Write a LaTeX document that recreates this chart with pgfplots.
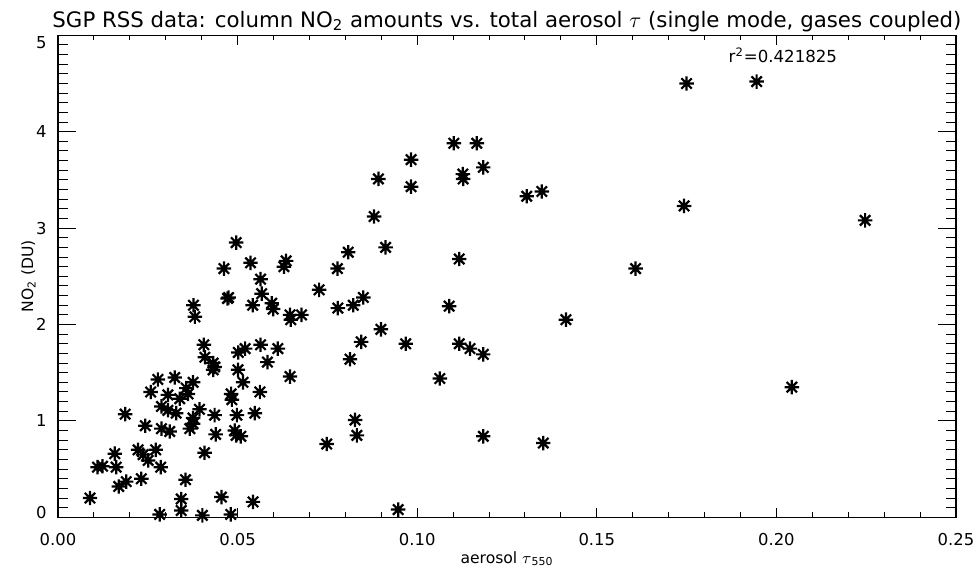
\documentclass[border=0pt]{standalone}
\usepackage{fontspec}
\setmainfont{DejaVu Sans}
\usepackage{pgfplots}
\pgfplotsset{compat=1.18}

% IDL psym=2 style asterisk: plus and cross
\pgfdeclareplotmark{idlstar}{%
  \pgfpathmoveto{\pgfqpoint{-\pgfplotmarksize}{0pt}}%
  \pgfpathlineto{\pgfqpoint{\pgfplotmarksize}{0pt}}%
  \pgfpathmoveto{\pgfqpoint{0pt}{-\pgfplotmarksize}}%
  \pgfpathlineto{\pgfqpoint{0pt}{\pgfplotmarksize}}%
  \pgfpathmoveto{\pgfqpoint{-0.72\pgfplotmarksize}{-0.72\pgfplotmarksize}}%
  \pgfpathlineto{\pgfqpoint{0.72\pgfplotmarksize}{0.72\pgfplotmarksize}}%
  \pgfpathmoveto{\pgfqpoint{-0.72\pgfplotmarksize}{0.72\pgfplotmarksize}}%
  \pgfpathlineto{\pgfqpoint{0.72\pgfplotmarksize}{-0.72\pgfplotmarksize}}%
  \pgfusepathqstroke}

\pgfplotstableread{
x       y
0.0089  0.20
0.0110  0.52
0.0124  0.53
0.0158  0.66
0.0162  0.52
0.0169  0.32
0.0190  0.37
0.0187  1.07
0.0223  0.70
0.0232  0.40
0.0237  0.65
0.0243  0.95
0.0251  0.59
0.0258  1.30
0.0272  0.70
0.0278  1.43
0.0283  0.03
0.0286  0.52
0.0288  1.15
0.0288  0.92
0.0306  1.27
0.0306  1.11
0.0311  0.89
0.0325  1.45
0.0329  1.08
0.0339  1.23
0.0343  0.19
0.0343  0.07
0.0355  0.39
0.0357  1.34
0.0362  1.28
0.0367  0.92
0.0376  1.40
0.0376  1.03
0.0376  0.97
0.0377  2.20
0.0381  2.08
0.0394  1.12
0.0402  0.02
0.0406  1.79
0.0408  0.67
0.0409  1.66
0.0432  1.60
0.0432  1.53
0.0436  1.56
0.0436  1.06
0.0439  0.86
0.0455  0.21
0.0462  2.58
0.0472  2.27
0.0475  2.28
0.0481  0.03
0.0482  1.28
0.0484  1.22
0.0492  0.90
0.0496  2.85
0.0496  0.85
0.0498  1.06
0.0501  1.53
0.0502  1.71
0.0509  0.84
0.0515  1.40
0.0521  1.75
0.0536  2.64
0.0542  2.20
0.0543  0.16
0.0548  1.08
0.0562  1.30
0.0564  2.47
0.0564  1.79
0.0567  2.32
0.0583  1.61
0.0595  2.22
0.0599  2.16
0.0612  1.75
0.0629  2.60
0.0635  2.66
0.0646  2.10
0.0646  1.46
0.0648  2.05
0.0678  2.10
0.0727  2.36
0.0748  0.76
0.0778  2.58
0.0779  2.17
0.0808  2.75
0.0813  1.64
0.0822  2.20
0.0827  1.01
0.0832  0.85
0.0844  1.82
0.0850  2.28
0.0880  3.12
0.0892  3.51
0.0899  1.95
0.0912  2.80
0.0947  0.08
0.0968  1.80
0.0983  3.71
0.0983  3.43
0.1063  1.44
0.1089  2.19
0.1102  3.88
0.1117  2.68
0.1117  1.80
0.1127  3.56
0.1128  3.51
0.1147  1.75
0.1166  3.88
0.1184  3.63
0.1184  1.69
0.1184  0.84
0.1305  3.33
0.1347  3.38
0.1351  0.77
0.1414  2.05
0.1608  2.58
0.1743  3.23
0.1750  4.50
0.1945  4.52
0.2043  1.35
0.2247  3.08
}\notwo

\pgfplotsset{
  idlbox/.style={
    width=449pt, height=241pt, scale only axis,
    xmin=0, xmax=0.25, ymin=0, ymax=5,
    tick align=inside,
    axis line style={line width=0.6pt},
    every tick/.style={black, line width=0.5pt},
  }
}

\begin{document}
\begin{tikzpicture}
% x ticks, data, title, x label
\begin{axis}[
    idlbox,
    xtick={0,0.05,0.1,0.15,0.2,0.25},
    xticklabels={0.00,0.05,0.10,0.15,0.20,0.25},
    minor x tick num=4,
    ytick=\empty,
    major tick length=4.75pt, minor tick length=2.5pt,
    xticklabel style={font=\fontsize{8.2}{10}\selectfont, inner sep=0pt, yshift=-8pt},
    title={SGP RSS data: column NO\textsubscript{2} amounts vs. total aerosol $\tau$ (single mode, gases coupled)},
    title style={font=\fontsize{10.65}{13}\selectfont, at={(0.5,1)}, anchor=base, yshift=-2pt, inner sep=0pt},
    xlabel={aerosol $\tau$\textsubscript{550}},
    xlabel style={font=\fontsize{7.8}{9}\selectfont, at={(axis description cs:0.5,-0.0954)}, anchor=base, inner sep=0pt},
]
\addplot[only marks, mark=idlstar, mark size=3.6pt, mark options={line width=1.1pt, solid}] table[x=x, y=y] {\notwo};
\node[font=\fontsize{8.3}{10}\selectfont, anchor=base, inner sep=0pt] at (axis cs:0.2018,4.72) {r\textsuperscript{2}=0.421825};
\end{axis}
% y ticks (longer, as IDL draws them), y tick labels, y label
\begin{axis}[
    idlbox,
    xtick=\empty,
    ytick={0,1,2,3,4,5},
    minor y tick num=9,
    major tick length=9pt, minor tick length=5pt,
    yticklabel={\ifcase\ticknum\relax\raisebox{2.5pt}[\height][\depth]{0}\or 1\or 2\or 3\or 4\or \raisebox{-3.5pt}[\height][\depth]{5}\fi},
    yticklabel style={font=\fontsize{8.2}{10}\selectfont, inner sep=0pt, xshift=-5.5pt},
    ylabel={NO\textsubscript{2} (DU)},
    ylabel style={font=\fontsize{7.8}{9}\selectfont, at={(axis description cs:-0.0278,0.5)}, anchor=base, inner sep=0pt},
]
\end{axis}
\pgfresetboundingbox
\path[use as bounding box] ([shift={(-29pt,-25.85pt)}]current axis.south west) rectangle ++(488pt,284.5pt);
\end{tikzpicture}
\end{document}
